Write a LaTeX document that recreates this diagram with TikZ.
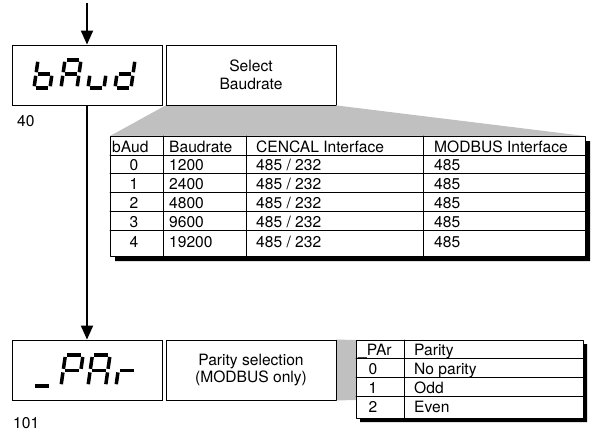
\documentclass[tikz,border=0pt]{standalone}
\usepackage{fontspec}
\setmainfont{TeX Gyre Heros}
\usetikzlibrary{arrows.meta,calc}
\usepackage{tkz-euclide}
\definecolor{FunnelClr}{RGB}{192,192,192}
\definecolor{ShadowClr}{RGB}{0,0,0}

\tikzset{
  dispbox/.style={draw,line width=0.9pt,minimum width=150pt,minimum height=60pt,inner sep=0pt},
  infobox/.style={draw,line width=0.9pt,minimum width=170pt,minimum height=60pt,align=center,inner sep=0pt},
  celltxt/.style={anchor=base west,inner sep=0pt},
  cellnum/.style={anchor=base,inner sep=0pt},
  flowarrow/.style={line width=2pt,-{Triangle[length=14pt,width=12pt]}},
  segline/.style={line width=3.5pt,shorten <=1.8pt,shorten >=1.8pt}
}

% one seven segment character: [scale]{x}{y}{segments}
\newcommand\segchar[4][1]{%
  \begin{scope}[shift={(#2,#3)},scale=#1]
  \coordinate (q0) at (0,0);
  \coordinate (q1) at (16,0);
  \coordinate (q2) at (2,-14);
  \coordinate (q3) at (18,-14);
  \coordinate (q4) at (4,-28);
  \coordinate (q5) at (20,-28);
  \foreach \ga/\gb in {#4} \draw[segline] (q\ga) -- (q\gb);
  \end{scope}}

\begin{document}
\begin{tikzpicture}[x=1pt,y=-1pt,every node/.style={font=\fontsize{15.6}{17.5}\selectfont}]
\useasboundingbox (0,0) rectangle (594,433);

\node[dispbox] (baud) at (87,75) {};
\node[infobox] (baudinfo) at (251,75) {Select\\Baudrate};
\node[dispbox] (par) at (87,370) {};
\node[infobox] (parinfo) at (251,370) {Parity selection\\(MODBUS only)};

\node[celltxt] (num40) at (17,127) {40};
\node[celltxt] (num101) at (13,428) {101};

\coordinate (start) at (87,3);
\draw[flowarrow] (start) -- (baud.north);
\draw[flowarrow] (baud.south) -- (par.north);

% display texts
\segchar{34}{88}{1/3,0/1,0/2,2/4,2/3}
\segchar{61}{88}{4/5,3/5,1/3,0/2,2/4,2/3}
\segchar{88}{88}{1/3,0/1,0/2}
\segchar{115}{88}{3/5,1/3,0/1,0/2,2/3}

\segchar[1.1]{33}{386}{0/1}
\segchar[1.1]{61}{386}{4/5,3/5,0/2,2/4,2/3}
\segchar[1.1]{88}{386}{4/5,3/5,1/3,0/2,2/4,2/3}
\segchar[1.1]{116}{386}{0/2,2/3}

\tkzDefPoints{110/136/T1,585/136/T2,585/256/T3,110/256/T4}
\tkzDefPoints{115/141/U1,590/141/U2,590/261/U3,115/261/U4}
\tkzDefPoints{356/340/P1,583/340/P2,583/418/P3,356/418/P4}
\tkzDefPoints{360/344/V1,587/344/V2,587/422/V3,360/422/V4}
\coordinate (F1) at (baudinfo.south west);
\coordinate (F2) at (baudinfo.south east);
\coordinate (G1) at (parinfo.north east);
\coordinate (G2) at (parinfo.south east);
\tkzDefPoints{356/400/G3}

\tkzFillPolygon[fill=FunnelClr](F1,F2,T2,T1)
\tkzFillPolygon[fill=FunnelClr](G1,P1,G3,G2)
\tkzFillPolygon[fill=ShadowClr](U1,U2,U3,U4)
\tkzFillPolygon[fill=ShadowClr](V1,V2,V3,V4)
\tkzFillPolygon[fill=white](T1,T2,T3,T4)
\tkzFillPolygon[fill=white](P1,P2,P3,P4)
\draw[line width=0.9pt] (baudinfo.south west) -- (baudinfo.south east);
\draw[line width=0.9pt] (parinfo.north east) -- (parinfo.south east);

\tkzDefPoints{163/136/C1,163/256/D1,246/136/C2,246/256/D2,423/136/C3,423/256/D3}
\tkzDefPoints{110/155/L1,585/155/R1,110/173/L2,585/173/R2,110/192/L3,585/192/R3}
\tkzDefPoints{110/211/L4,585/211/R4,110/230/L5,585/230/R5}
\tkzDefPoints{404/340/C4,404/418/D4,356/358/L6,583/358/R6,356/377/L7,583/377/R7,356/396/L8,583/396/R8}

\tkzDrawSegments[line width=0.8pt,color=black](C1,D1 C2,D2 C3,D3 L1,R1 L2,R2 L3,R3 L4,R4 L5,R5)
\tkzDrawSegments[line width=0.8pt,color=black](C4,D4 L6,R6 L7,R7 L8,R8)
\tkzDrawPolygon[line width=0.9pt,color=black](T1,T2,T3,T4)
\tkzDrawPolygon[line width=0.9pt,color=black](P1,P2,P3,P4)

% baudrate table
\node[celltxt] (hbaud) at (112,152.5) {bAud};
\node[celltxt] (hrate) at (169,152.5) {Baudrate};
\node[celltxt] (hcen) at (256,152.5) {CENCAL Interface};
\node[celltxt] (hmod) at (434,152.5) {MODBUS Interface};
\node[cellnum] (n0) at (134,170.5) {0};
\node[celltxt] (r0) at (169,170.5) {1200};
\node[celltxt] (c0) at (256,170.5) {485 / 232};
\node[celltxt] (m0) at (434,170.5) {485};
\node[cellnum] (n1) at (134,189.5) {1};
\node[celltxt] (r1) at (169,189.5) {2400};
\node[celltxt] (c1) at (256,189.5) {485 / 232};
\node[celltxt] (m1) at (434,189.5) {485};
\node[cellnum] (n2) at (134,208.5) {2};
\node[celltxt] (r2) at (169,208.5) {4800};
\node[celltxt] (c2) at (256,208.5) {485 / 232};
\node[celltxt] (m2) at (434,208.5) {485};
\node[cellnum] (n3) at (134,227.5) {3};
\node[celltxt] (r3) at (169,227.5) {9600};
\node[celltxt] (c3) at (256,227.5) {485 / 232};
\node[celltxt] (m3) at (434,227.5) {485};
\node[cellnum] (n4) at (134,247) {4};
\node[celltxt] (r4) at (169,247) {19200};
\node[celltxt] (c4) at (256,247) {485 / 232};
\node[celltxt] (m4) at (434,247) {485};

% parity table
\node[celltxt] (hpar) at (358,355) {\_PAr};
\node[celltxt] (hparity) at (414,355) {Parity};
\node[cellnum] (p0) at (373,374) {0};
\node[celltxt] (t0) at (414,374) {No parity};
\node[cellnum] (p1) at (373,393) {1};
\node[celltxt] (t1) at (414,393) {Odd};
\node[cellnum] (p2) at (373,412) {2};
\node[celltxt] (t2) at (414,412) {Even};

\end{tikzpicture}
\end{document}
